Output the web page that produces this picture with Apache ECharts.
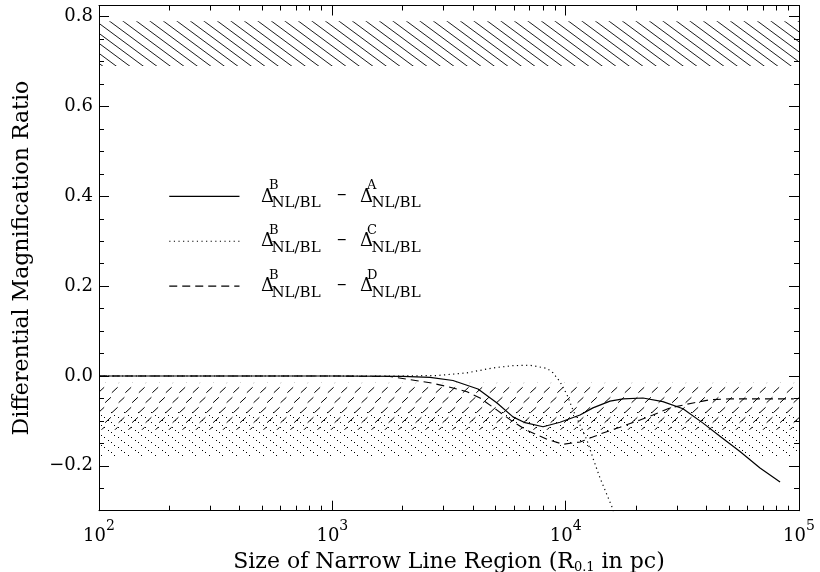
<!DOCTYPE html>
<html><head><meta charset="utf-8">
<script src="https://cdn.jsdelivr.net/npm/echarts@6/dist/echarts.min.js"></script>
<style>html,body{margin:0;padding:0;background:#fff}#c{width:820px;height:572px}</style>
</head><body><div id="c"></div>
<script>
// ---------- data ----------
const solidX = [100, 1000, 2000, 2624, 3289, 4210, 5080, 5945, 6695, 8000, 9460, 11520, 13090, 15490, 17620, 21440, 26100, 31830, 38800, 45850, 55850, 68060, 82950];
const solidY = [0, 0, -0.001, -0.003, -0.010, -0.029, -0.060, -0.091, -0.104, -0.113, -0.103, -0.087, -0.071, -0.056, -0.051, -0.049, -0.057, -0.073, -0.105, -0.134, -0.168, -0.205, -0.236];

const dottedX = [100, 1000, 2000, 2812, 3777, 4885, 5945, 7030, 8318, 8830, 9460, 10140, 10750, 11520, 12340, 13090, 14030, 15040, 15800, 16440];
const dottedY = [0, 0, 0, 0.001, 0.007, 0.018, 0.023, 0.024, 0.017, 0.007, -0.013, -0.042, -0.076, -0.109, -0.143, -0.183, -0.227, -0.265, -0.292, -0.32];

const dashedX = [100, 1000, 1767, 2090, 2624, 3193, 3777, 4294, 5080, 5945, 6822, 8318, 9745, 11520, 14450, 17100, 20840, 23680, 27990, 35150, 41580, 50600, 95000];
const dashedY = [0, 0, -0.001, -0.007, -0.015, -0.025, -0.035, -0.049, -0.076, -0.102, -0.121, -0.141, -0.152, -0.147, -0.127, -0.114, -0.098, -0.087, -0.071, -0.060, -0.053, -0.051, -0.051];

const topBand = [0.69, 0.79];
const dashBand = [-0.12, -0.015];
const dotBand = [-0.18, -0.08];

const legendLetters = ['A', 'C', 'D'];
const legendRowY = [0.4, 0.3, 0.2];
const legendLineX = [200, 400];

const xMinorTicks = [200,300,400,500,600,700,800,900,2000,3000,4000,5000,6000,7000,8000,9000,20000,30000,40000,50000,60000,70000,80000,90000];
const yMajorTicks = [-0.2, 0, 0.2, 0.4, 0.6, 0.8];
const yMinorTicks = [-0.25,-0.15,-0.1,-0.05,0.05,0.1,0.15,0.25,0.3,0.35,0.45,0.5,0.55,0.65,0.7,0.75];

const X_MIN = 100, X_MAX = 100000, Y_MIN = -0.3, Y_MAX = 0.825;
const GRID = { left: 99, right: 21, top: 5.5, bottom: 61.3 };
const CH = 572;

// ---------- patterns ----------
function makeCanvas(w, h) { const c = document.createElement('canvas'); c.width = w; c.height = h; return c; }
const PW = 27, PH = 20;
function backslashLines() {
  const c = makeCanvas(PW, PH), g = c.getContext('2d');
  g.strokeStyle = '#000'; g.lineWidth = 0.9;
  for (const off of [-27, -13.5, 0, 13.5, 27]) {
    g.beginPath(); g.moveTo(off - PW, -PH); g.lineTo(off + 2 * PW, 2 * PH); g.stroke();
  }
  return c;
}
function slashDashes() {
  const c = makeCanvas(PW, PH), g = c.getContext('2d');
  g.strokeStyle = '#000'; g.lineWidth = 1;
  const centers = [[0,0],[13.5,0],[27,0],[6.75,10],[20.25,10],[-6.75,10],[33.75,10],[0,20],[13.5,20],[27,20]];
  for (const [cx, cy] of centers) {
    g.beginPath(); g.moveTo(cx - 2.9, cy + 2.7); g.lineTo(cx + 2.9, cy - 2.7); g.stroke();
  }
  return c;
}
function backslashDots() {
  const c = makeCanvas(PW, PH), g = c.getContext('2d');
  g.fillStyle = '#000';
  for (const off of [-27, -13.5, 0, 13.5, 27]) {
    for (let t = -10; t <= 20; t++) {
      const x = off + t * 3.375, y = t * 2.5;
      if (x >= -1 && x <= PW + 1 && y >= -1 && y <= PH + 1) {
        g.fillRect(Math.floor(((x % PW) + PW) % PW), Math.floor(((y % PH) + PH) % PH), 1, 1);
      }
    }
  }
  return c;
}

const FONT = 'DejaVu Serif';
const chart = echarts.init(document.getElementById('c'), null, { renderer: 'canvas' });

function toPairs(xs, ys) { return xs.map((x, i) => [x, ys[i]]); }

const baseX = {
  type: 'log', logBase: 10, min: X_MIN, max: X_MAX,
  splitLine: { show: false }, minorTick: { show: false }
};
const baseY = {
  type: 'value', min: Y_MIN, max: Y_MAX,
  splitLine: { show: false }
};
const axisLineStyle = { show: true, onZero: false, lineStyle: { color: '#000', width: 1 } };
const noLine = { show: false, onZero: false };

const option = {
  backgroundColor: '#fff',
  animation: false,
  grid: Object.assign({ containLabel: false, outerBoundsMode: 'none' }, GRID),
  xAxis: [
    Object.assign({}, baseX, {
      position: 'bottom',
      axisLine: axisLineStyle,
      axisTick: { inside: true, length: 10, lineStyle: { color: '#000' } },
      axisLabel: {
        margin: 9, color: '#000',
        formatter: v => '{b|10}{e|' + Math.round(Math.log10(v)) + '}',
        rich: {
          b: { fontFamily: FONT, fontSize: 18, lineHeight: 26, verticalAlign: 'bottom', color: '#000' },
          e: { fontFamily: FONT, fontSize: 14, lineHeight: 14, verticalAlign: 'top', color: '#000' }
        }
      },
      name: 'Size of Narrow Line Region (R{s|0.1} in pc)',
      nameLocation: 'middle', nameGap: 38,
      nameTextStyle: {
        fontFamily: FONT, fontSize: 22, color: '#000', lineHeight: 24,
        rich: { s: { fontFamily: FONT, fontSize: 13, lineHeight: 12, verticalAlign: 'bottom', color: '#000' } }
      }
    }),
    Object.assign({}, baseX, {
      position: 'top', axisLine: axisLineStyle,
      axisTick: { inside: true, length: 10, lineStyle: { color: '#000' } },
      axisLabel: { show: false }
    }),
    // minor-tick axes, pinned to the bottom / top edge through a helper y axis whose zero sits there
    Object.assign({}, baseX, {
      position: 'bottom',
      axisLine: { show: false, onZero: true, onZeroAxisIndex: 4 },
      axisTick: { show: true, inside: true, length: 5, customValues: xMinorTicks, lineStyle: { color: '#000' } },
      axisLabel: { show: false }
    }),
    Object.assign({}, baseX, {
      position: 'top',
      axisLine: { show: false, onZero: true, onZeroAxisIndex: 5 },
      axisTick: { show: true, inside: true, length: 5, customValues: xMinorTicks, lineStyle: { color: '#000' } },
      axisLabel: { show: false }
    })
  ],
  yAxis: [
    Object.assign({}, baseY, {
      position: 'left', axisLine: axisLineStyle,
      axisTick: { inside: true, length: 10, customValues: yMajorTicks, lineStyle: { color: '#000' } },
      axisLabel: {
        customValues: yMajorTicks, margin: 6, color: '#000', fontFamily: FONT, fontSize: 18,
        formatter: v => (v < -1e-9 ? '\u2212' : '') + Math.abs(v).toFixed(1)
      },
      name: 'Differential Magnification Ratio',
      nameLocation: 'middle', nameRotate: 90, nameGap: 66,
      nameTextStyle: { fontFamily: FONT, fontSize: 22, color: '#000' }
    }),
    Object.assign({}, baseY, {
      position: 'left', axisLine: noLine,
      axisTick: { inside: true, length: 5, customValues: yMinorTicks, lineStyle: { color: '#000' } },
      axisLabel: { show: false }
    }),
    Object.assign({}, baseY, {
      position: 'right', axisLine: axisLineStyle,
      axisTick: { inside: true, length: 10, customValues: yMajorTicks, lineStyle: { color: '#000' } },
      axisLabel: { show: false }
    }),
    Object.assign({}, baseY, {
      position: 'right', axisLine: noLine,
      axisTick: { inside: true, length: 5, customValues: yMinorTicks, lineStyle: { color: '#000' } },
      axisLabel: { show: false }
    }),
    { type: 'value', min: 0, max: 1, position: 'left', axisLine: noLine, axisTick: { show: false }, axisLabel: { show: false }, splitLine: { show: false } },
    { type: 'value', min: -1, max: 0, position: 'right', axisLine: noLine, axisTick: { show: false }, axisLabel: { show: false }, splitLine: { show: false } }
  ],
  series: []
};

function band(range, canvas) {
  return [{ yAxis: range[1], itemStyle: { color: { image: canvas, repeat: 'repeat' }, borderWidth: 0, opacity: 1 } }, { yAxis: range[0] }];
}
option.series.push({
  type: 'line', data: [], xAxisIndex: 0, yAxisIndex: 0, z: 1, silent: true,
  markArea: {
    silent: true,
    data: [
      band(topBand, backslashLines()),
      band(dotBand, backslashDots()),
      band(dashBand, slashDashes())
    ]
  }
});

const styles = [
  { type: 'solid', width: 1.2 },
  { type: [1.2, 3.4], width: 1.2 },
  { type: [8, 5], width: 1.1 }
];
const curves = [toPairs(solidX, solidY), toPairs(dottedX, dottedY), toPairs(dashedX, dashedY)];
curves.forEach((d, i) => {
  option.series.push({
    type: 'line', data: d, xAxisIndex: 0, yAxisIndex: 0, z: 3, showSymbol: false, symbol: 'none',
    clip: true, smooth: false,
    lineStyle: { color: '#000', width: styles[i].width, type: styles[i].type }
  });
  option.series.push({
    type: 'line', data: legendLineX.map(x => [x, legendRowY[i]]), xAxisIndex: 0, yAxisIndex: 0, z: 3,
    showSymbol: false, symbol: 'none',
    lineStyle: { color: '#000', width: styles[i].width, type: styles[i].type }
  });
});

chart.setOption(option);

// legend labels, positioned relative to the sample lines
const els = [];
function txt(x, y, s, size) {
  els.push({ type: 'text', x: x, y: y, z: 10, silent: true,
    style: { text: s, font: size + 'px "' + FONT + '"', fill: '#000', align: 'left', verticalAlign: 'middle' } });
}
legendRowY.forEach((yv, i) => {
  const p = chart.convertToPixel({ xAxisIndex: 0, yAxisIndex: 0 }, [legendLineX[1], yv]);
  const px = p[0], py = p[1];
  txt(px + 21.5, py + 0.5, '\u0394', 18);
  txt(px + 29.5, py - 11, 'B', 13);
  txt(px + 32, py + 6.5, 'NL/BL', 15);
  txt(px + 97.5, py - 1.5, '\u2013', 19);
  txt(px + 120.5, py + 0.5, '\u0394', 18);
  txt(px + 127.5, py - 11, legendLetters[i], 13);
  txt(px + 132, py + 6.5, 'NL/BL', 15);
});
chart.setOption({ graphic: { elements: els } });
</script>
</body></html>
